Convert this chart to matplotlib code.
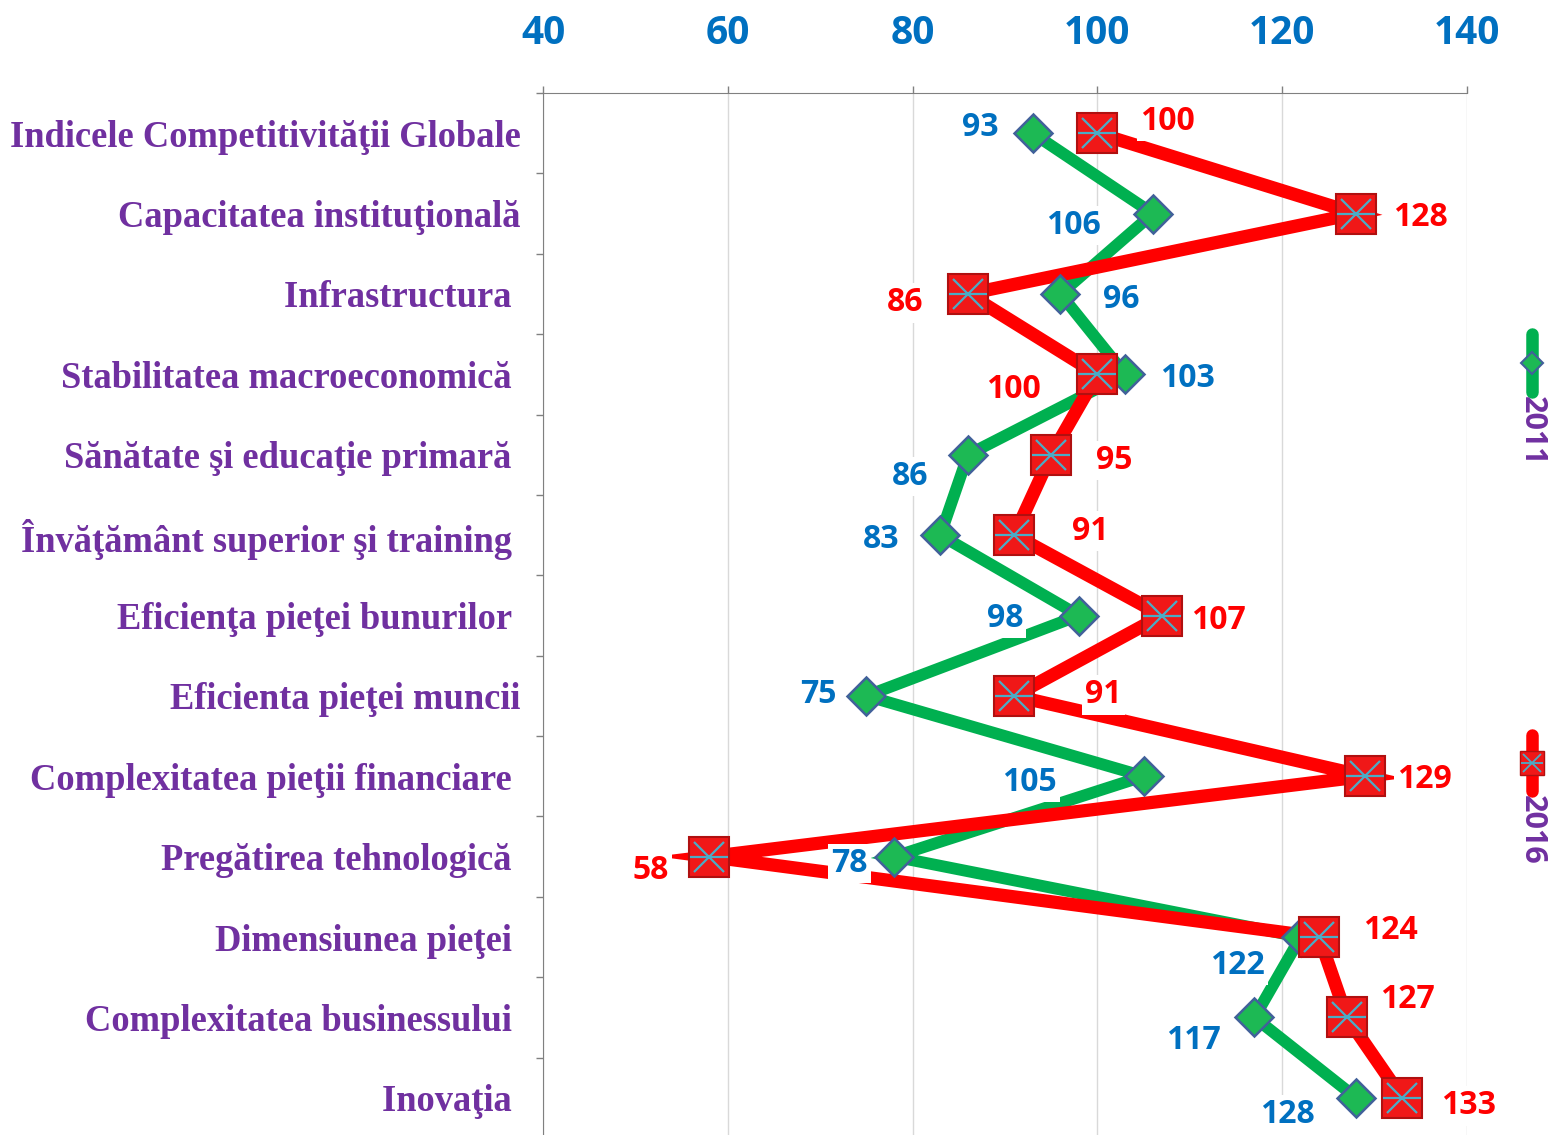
import matplotlib.pyplot as plt
from matplotlib.lines import Line2D

# Categories (top to bottom) and ranks
categorii = [
    "Indicele Competitivităţii Globale",
    "Capacitatea instituţională",
    "Infrastructura ",
    "Stabilitatea macroeconomică ",
    "Sănătate şi educaţie primară ",
    "Învăţământ superior şi training ",
    "Eficienţa pieţei bunurilor ",
    "Eficienta pieţei muncii",
    "Complexitatea pieţii financiare ",
    "Pregătirea tehnologică ",
    "Dimensiunea pieţei ",
    "Complexitatea businessului ",
    "Inovaţia ",
]
v2011 = [93, 106, 96, 103, 86, 83, 98, 75, 105, 78, 122, 117, 128]
v2016 = [100, 128, 86, 100, 95, 91, 107, 91, 129, 58, 124, 127, 133]
x_ticks = [40, 60, 80, 100, 120, 140]

# label offsets in pixels (dx, dy) relative to each marker, dy positive = down
off2011 = [(-52, -10), (-79, 8), (61, 2), (62, 0), (-58, 18), (-59, 0), (-74, -1),
           (-48, -5), (-114, 2), (-45, 3), (-63, 24), (-61, 19), (-69, 13)]
off2016 = [(70, -16), (64, 0), (-63, 5), (-84, 11), (63, 2), (76, -8), (56, 1),
           (89, -5), (59, -1), (-59, 10), (71, -11), (61, -22), (66, 4)]

GREEN = "#00B050"
RED = "#FF0000"
BLUE = "#0070C0"
PURPLE = "#7030A0"
XCOL = "#4BACC6"

W, H = 1550, 1135
fig = plt.figure(figsize=(W / 100, H / 100), dpi=100)
ax = fig.add_axes([543 / W, 1 - 1138 / H, (1467 - 543) / W, (1138 - 93) / H])

y = list(range(len(categorii)))

ax.plot(v2011, y, color=GREEN, lw=8.5, solid_joinstyle="miter", zorder=3)
ax.plot(v2016, y, color=RED, lw=9.5, solid_joinstyle="miter", zorder=4)
ax.plot(v2011, y, ls="none", marker="D", ms=19, mfc="#1DB954", mec="#41619A",
        mew=1.8, zorder=5)
ax.plot(v2016, y, ls="none", marker="s", ms=29, mfc="#F01818", mec="#B01010",
        mew=1.5, zorder=6)
ax.plot(v2016, y, ls="none", marker="x", ms=22, mec=XCOL, mew=1.6, zorder=7)
ax.plot(v2016, y, ls="none", marker="_", ms=27, mec=XCOL, mew=1.6, zorder=7)

box = dict(boxstyle="square,pad=0.1", fc="white", ec="none")
for vals, offs, col in [(v2011, off2011, BLUE), (v2016, off2016, RED)]:
    for xi, yi, (dx, dy) in zip(vals, y, offs):
        ax.annotate(str(xi), (xi, yi), xytext=(dx, -dy - 4),
                    textcoords="offset pixels", ha="center", va="center",
                    color=col, fontsize=23, fontweight="bold",
                    family="Open Sans", bbox=box, zorder=8,
                    annotation_clip=False)

ax.set_xlim(40, 140)
ax.set_ylim(len(categorii) - 0.5, -0.5)

ax.xaxis.tick_top()
ax.set_xticks(x_ticks)
ax.set_xticklabels([str(t) for t in x_ticks], color=BLUE, fontsize=28,
                   fontweight="bold", family="Open Sans")
ax.tick_params(axis="x", direction="out", length=5, width=1, color="#808080",
               pad=24)
ax.grid(axis="x", color="#D9D9D9", lw=1)

ax.set_yticks(y)
ax.set_yticklabels(categorii, color=PURPLE, fontsize=26.3, fontweight="bold",
                   family="Liberation Serif")
ax.tick_params(axis="y", length=0, pad=16)
ax.set_yticks([i - 0.5 for i in y], minor=True)
ax.tick_params(axis="y", which="minor", length=5, width=1, color="#808080")

for s in ["right", "bottom"]:
    ax.spines[s].set_visible(False)
ax.spines["top"].set_color("#808080")
ax.spines["left"].set_color("#808080")
ax.set_axisbelow(True)

# vertical legend at right
lx = 1532 / W
for (y0, y1), col, mk, lab in [((334, 392), GREEN, "D", "2011"),
                               ((735, 791), RED, "s", "2016")]:
    fig.add_artist(Line2D([lx, lx], [1 - y0 / H, 1 - y1 / H], color=col,
                          lw=9, solid_capstyle="round"))
    ym = 1 - (y0 + y1) / 2 / H
    if mk == "D":
        fig.add_artist(Line2D([lx], [ym], marker="D", ms=11, mfc="#1DB954",
                              mec="#41619A", mew=1.5))
    else:
        fig.add_artist(Line2D([lx], [ym], marker="s", ms=17, mfc="#F01818",
                              mec="#B01010", mew=1))
        fig.add_artist(Line2D([lx], [ym], marker="x", ms=13, mec=XCOL, mew=1.3))
        fig.add_artist(Line2D([lx], [ym], marker="_", ms=16, mec=XCOL, mew=1.3))
    fig.text(lx, 1 - (y1 + 4) / H, lab, rotation=270, ha="center", va="top",
             color=PURPLE, fontsize=22, fontweight="bold", family="Open Sans")

fig.savefig("out.png", dpi=100)
